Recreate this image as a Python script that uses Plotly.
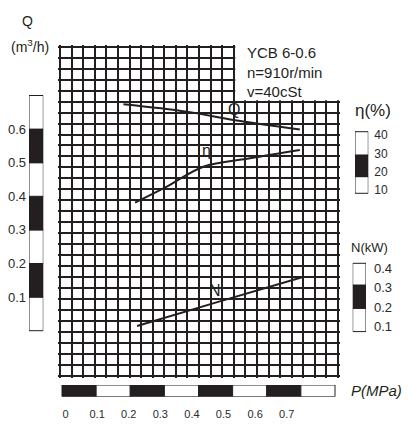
import plotly.graph_objects as go

# page body has an 8px default margin: draw a figure that fills the rest of the 412x424 window
OFF = 8.0
W, H = 412 - 8, 424 - 8

# ---------------- data ----------------
P_TICKS = [0, 0.1, 0.2, 0.3, 0.4, 0.5, 0.6, 0.7]
P_TICK_TEXT = ["0", "0.1", "0.2", "0.3", "0.4", "0.5", "0.6", "0.7"]
P_BAR_EDGES = [0, 0.1, 0.2, 0.3, 0.4, 0.5, 0.6, 0.7, 0.8]

Q_TICKS = [0.1, 0.2, 0.3, 0.4, 0.5, 0.6]
Q_BAR_EDGES = [0, 0.1, 0.2, 0.3, 0.4, 0.5, 0.6, 0.7]

ETA_TICKS = [10, 20, 30, 40]
ETA_BAR_EDGES = [8.2, 17.3, 29.1, 41.8]

N_TICKS = [0.1, 0.2, 0.3, 0.4]
N_BAR_EDGES = [0.075, 0.194, 0.313, 0.424]

# curves: pressure P (MPa) vs value
Q_P = [0.180, 0.365, 0.502, 0.697]
Q_VAL = [0.674, 0.652, 0.627, 0.599]

ETA_P = [0.214, 0.307, 0.414, 0.551, 0.697]
ETA_VAL = [3.1, 11.8, 22.7, 27.3, 31.8]

N_P = [0.220, 0.460, 0.706]
N_VAL = [0.104, 0.228, 0.354]

GRID_COLS = 24
GRID_ROWS = 30

# ---------------- geometry helpers (reference pixels -> paper) ----------------
INK = "#231f20"
FONT = "Liberation Sans, Arial, sans-serif"

def xdom(a, b):
    return [(a - OFF) / W, (b - OFF) / W]

def ydom(top, bot):
    return [1 - (bot - OFF) / H, 1 - (top - OFF) / H]

GX0, GX1, GY0, GY1 = 60.0, 338.0, 46.7, 376.0
PAD = 2.0
cw = (GX1 - GX0) / GRID_COLS
rh = (GY1 - GY0) / GRID_ROWS

PX0, PX1 = GX0 - PAD, GX1 + PAD
PY0, PY1 = GY0 - PAD, GY1 + PAD

col = lambda px: (px - GX0) / cw
row = lambda py: (GY1 - py) / rh
p_of = lambda px: (px - 62.0) / 341.25
plab = lambda px: (px - 65.5) / 316.0
q_of = lambda py: (330.7 - py) / 336.0
e_of = lambda py: 40 - (py - 135.0) / 1.8333
n_of = lambda py: 0.4 - (py - 268.0) / 195.67

GRID_YDOM = ydom(PY0, PY1)
GRID_XDOM = xdom(PX0, PX1)

fig = go.Figure()

line_style = dict(color=INK, width=2)
fig.add_trace(go.Scatter(x=Q_P, y=Q_VAL, mode="lines", line=dict(shape="spline", **line_style),
                         xaxis="x2", yaxis="y2", hoverinfo="skip", showlegend=False))
fig.add_trace(go.Scatter(x=ETA_P, y=ETA_VAL, mode="lines", line=dict(shape="spline", **line_style),
                         xaxis="x2", yaxis="y3", hoverinfo="skip", showlegend=False))
fig.add_trace(go.Scatter(x=N_P, y=N_VAL, mode="lines", line=dict(shape="spline", **line_style),
                         xaxis="x2", yaxis="y4", hoverinfo="skip", showlegend=False))

def seg_colors(n, first_black):
    return [(INK if ((i % 2 == 0) == first_black) else "white") for i in range(n)]

def vbar(edges, xa, ya, first_black=False):
    n = len(edges) - 1
    fig.add_trace(go.Bar(x=[0.5] * n, y=[edges[i + 1] - edges[i] for i in range(n)],
                         base=edges[:-1], width=1,
                         marker=dict(color=seg_colors(n, first_black), line=dict(color=INK, width=1)),
                         xaxis=xa, yaxis=ya, hoverinfo="skip", showlegend=False))

vbar(Q_BAR_EDGES, "x3", "y5")
vbar(ETA_BAR_EDGES, "x4", "y6")
vbar(N_BAR_EDGES, "x5", "y7")

pb = P_BAR_EDGES
fig.add_trace(go.Bar(y=[0.5] * (len(pb) - 1), x=[pb[i + 1] - pb[i] for i in range(len(pb) - 1)],
                     base=pb[:-1], width=1, orientation="h",
                     marker=dict(color=seg_colors(len(pb) - 1, True), line=dict(color=INK, width=1)),
                     xaxis="x6", yaxis="y8", hoverinfo="skip", showlegend=False))
# invisible trace carrying the P tick-label axis
fig.add_trace(go.Scatter(x=[0], y=[0.5], mode="markers", marker=dict(size=1, opacity=0),
                         xaxis="x7", yaxis="y8", hoverinfo="skip", showlegend=False))

hidden = dict(visible=False, showgrid=False, zeroline=False, fixedrange=True)
tickfont = dict(family=FONT, size=13, color="#2a2a2a")

fig.update_layout(
    width=W, height=H, margin=dict(l=0, r=0, t=0, b=0),
    paper_bgcolor="white", plot_bgcolor="rgba(0,0,0,0)",
    barmode="overlay", showlegend=False,
    xaxis=dict(domain=GRID_XDOM, range=[col(PX0), col(PX1)], tick0=0, dtick=1,
               showgrid=True, gridcolor=INK, gridwidth=2, zeroline=False,
               showticklabels=False, ticks="", anchor="y", fixedrange=True),
    yaxis=dict(domain=GRID_YDOM, range=[row(PY1), row(PY0)], tick0=0, dtick=1,
               showgrid=True, gridcolor=INK, gridwidth=2, zeroline=False,
               showticklabels=False, ticks="", anchor="x", fixedrange=True),
    xaxis2=dict(overlaying="x", range=[p_of(PX0), p_of(PX1)], anchor="y", **hidden),
    yaxis2=dict(overlaying="y", range=[q_of(PY1), q_of(PY0)], anchor="x", **hidden),
    yaxis3=dict(overlaying="y", range=[e_of(PY1), e_of(PY0)], anchor="x", **hidden),
    yaxis4=dict(overlaying="y", range=[n_of(PY1), n_of(PY0)], anchor="x", **hidden),
    # Q bar
    xaxis3=dict(domain=xdom(29, 43.3), range=[0, 1], anchor="y5", **hidden),
    yaxis5=dict(domain=GRID_YDOM, range=[q_of(PY1), q_of(PY0)], anchor="x3", side="left",
                tickvals=Q_TICKS, ticktext=[f"{v:.1f}" for v in Q_TICKS], ticks="",
                showgrid=False, zeroline=False, showline=False, tickfont=tickfont,
                ticklabelstandoff=2, fixedrange=True),
    # eta bar
    xaxis4=dict(domain=xdom(355, 368.3), range=[0, 1], anchor="y6", **hidden),
    yaxis6=dict(domain=GRID_YDOM, range=[e_of(PY1), e_of(PY0)], anchor="x4", side="right",
                tickvals=ETA_TICKS, ticks="", showgrid=False, zeroline=False, showline=False,
                tickfont=dict(family=FONT, size=12, color="#2a2a2a"), ticklabelstandoff=5,
                fixedrange=True),
    # N bar
    xaxis5=dict(domain=xdom(352.7, 366), range=[0, 1], anchor="y7", **hidden),
    yaxis7=dict(domain=GRID_YDOM, range=[n_of(PY1), n_of(PY0)], anchor="x5", side="right",
                tickvals=N_TICKS, ticktext=[f"{v:.1f}" for v in N_TICKS], ticks="",
                showgrid=False, zeroline=False, showline=False, tickfont=tickfont,
                ticklabelstandoff=7, fixedrange=True),
    # P bar
    xaxis6=dict(domain=GRID_XDOM, range=[p_of(PX0), p_of(PX1)], anchor="y8", **hidden),
    yaxis8=dict(domain=ydom(385, 396.7), range=[0, 1], anchor="x6", **hidden),
    xaxis7=dict(overlaying="x6", range=[plab(PX0), plab(PX1)], anchor="y8", side="bottom",
                tickvals=P_TICKS, ticktext=P_TICK_TEXT, ticks="", showgrid=False,
                zeroline=False, showline=False, ticklabelstandoff=9,
                tickfont=dict(family=FONT, size=11, color="#2a2a2a"), fixedrange=True),
)

# white box for the model text (top-right corner of the grid)
fig.add_shape(type="rect", xref="x", yref="y", x0=15 + 0.13, x1=col(PX1) + 0.5,
              y0=25 + 0.12, y1=row(PY0) + 0.5, fillcolor="white", line=dict(width=0),
              layer="above")

def ann(text, px, py, size, xanchor="center", italic=False):
    fig.add_annotation(text=text, x=(px - OFF) / W, y=1 - (py - OFF) / H,
                       xref="paper", yref="paper",
                       xanchor=xanchor, yanchor="middle", showarrow=False, align="left",
                       font=dict(family=FONT, size=size, color=INK,
                                 style="italic" if italic else "normal"))

ann("Q", 27, 21, 14)
ann("(m<sup>3</sup>/h)", 30, 46, 14)
ann("η(%)", 373, 110, 17)
ann("N(kW)", 369, 248, 13)
ann("P(MPa)", 404, 390, 15, xanchor="right", italic=True)
ann("YCB 6-0.6<br>n=910r/min<br>v=40cSt", 245, 72.5, 15, xanchor="left")
ann("Q", 234, 109, 16)
ann("η", 206, 150, 16)
ann("N", 215, 290, 16)

fig.write_html("out.html")
